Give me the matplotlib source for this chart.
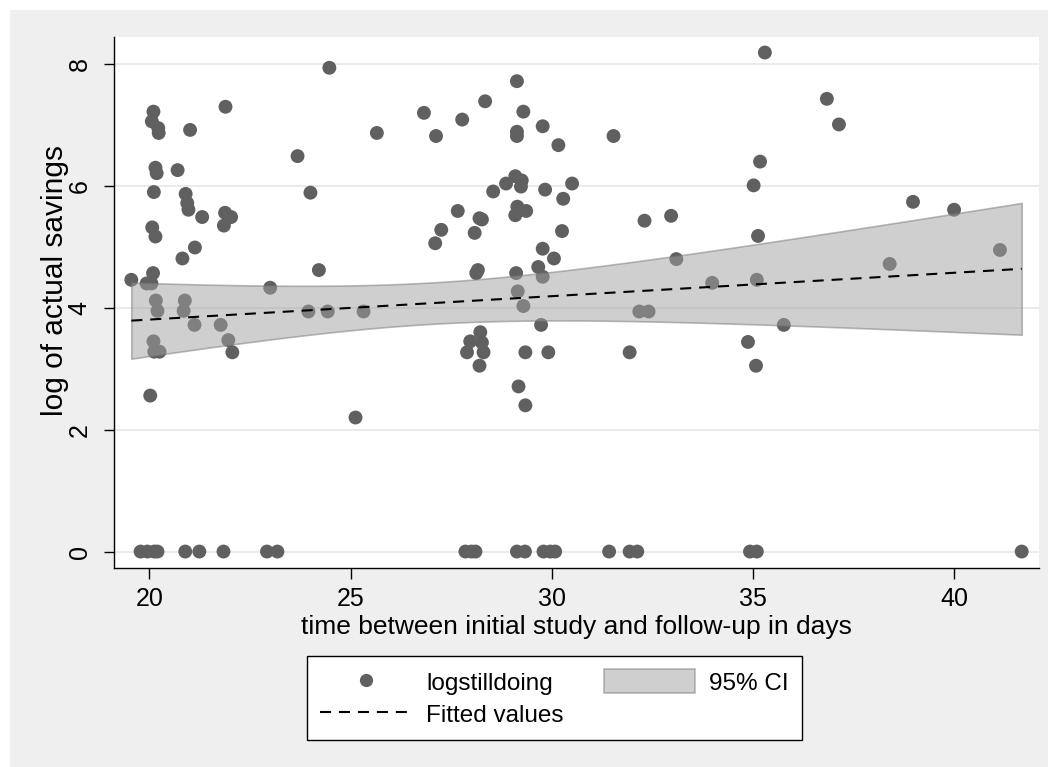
import numpy as np
import matplotlib
matplotlib.use("Agg")
import matplotlib.pyplot as plt
from matplotlib.patches import Rectangle, Patch
from matplotlib.lines import Line2D

plt.rcParams['font.family'] = ['Liberation Sans', 'DejaVu Sans']

# ---- data ----
days = [
    24.47, 20.10, 20.06, 20.22, 20.23, 21.01, 21.89, 25.65, 23.68, 20.15,
    20.18, 20.70, 20.11, 20.90, 20.94, 20.97, 21.31, 21.88, 22.03, 21.85,
    24.00, 20.07, 20.15, 21.13, 20.82, 24.21, 20.09, 19.55, 19.93, 20.05,
    23.00, 20.16, 20.88, 20.20, 20.85, 23.95, 24.43, 25.32, 21.12, 21.77,
    20.10, 20.12, 20.25, 21.96, 22.06, 20.02, 25.12,
    19.78, 19.95, 20.12, 20.20, 20.89, 21.24, 21.84, 22.92, 23.18,
    29.13, 28.34, 26.82, 27.77, 29.29, 27.12, 29.13, 29.13, 29.77, 30.16,
    31.53, 29.09, 29.25, 29.23, 28.86, 28.54, 29.83, 30.50, 30.28, 27.66,
    28.20, 28.26, 29.14, 29.36, 29.09, 27.25, 27.10, 28.08, 30.25, 32.30,
    32.96, 29.77, 30.05, 28.16, 28.12, 29.11, 29.66, 29.77, 33.09, 29.15,
    29.29, 32.17, 32.40, 29.73, 28.22, 27.97, 28.26, 27.89, 28.30, 28.20,
    29.34, 29.91, 31.93, 29.17, 29.34,
    27.85, 28.00, 28.10, 29.13, 29.33, 29.79, 29.96, 30.08, 31.42, 31.93, 32.12,
    35.29, 36.83, 37.13, 35.17, 35.01, 35.12, 38.97, 39.99, 33.98, 35.09,
    38.39, 41.13, 35.76, 34.87, 35.07,
    34.92, 35.09, 41.67,
]
logsav = [
    7.94, 7.22, 7.06, 6.95, 6.87, 6.92, 7.30, 6.87, 6.49, 6.30,
    6.21, 6.26, 5.90, 5.87, 5.72, 5.61, 5.49, 5.56, 5.49, 5.35,
    5.89, 5.32, 5.17, 4.99, 4.81, 4.62, 4.57, 4.46, 4.40, 4.40,
    4.33, 4.12, 4.12, 3.95, 3.95, 3.94, 3.94, 3.94, 3.72, 3.72,
    3.45, 3.28, 3.28, 3.47, 3.27, 2.56, 2.20,
    0, 0, 0, 0, 0, 0, 0, 0, 0,
    7.72, 7.39, 7.20, 7.09, 7.22, 6.82, 6.89, 6.82, 6.98, 6.67,
    6.82, 6.16, 6.09, 5.99, 6.04, 5.91, 5.94, 6.04, 5.79, 5.59,
    5.47, 5.45, 5.66, 5.59, 5.52, 5.28, 5.06, 5.23, 5.26, 5.43,
    5.51, 4.97, 4.81, 4.62, 4.57, 4.57, 4.67, 4.51, 4.80, 4.27,
    4.03, 3.94, 3.94, 3.72, 3.60, 3.45, 3.43, 3.27, 3.27, 3.05,
    3.27, 3.27, 3.27, 2.71, 2.40,
    0, 0, 0, 0, 0, 0, 0, 0, 0, 0, 0,
    8.19, 7.43, 7.01, 6.40, 6.01, 5.18, 5.74, 5.61, 4.41, 4.46,
    4.72, 4.95, 3.72, 3.44, 3.05,
    0, 0, 0,
]
# fitted line (values at the ends of the data range) and its 95% CI shape
fit_end_values = [3.79, 4.64]
ci_center_x = 27.03      # x where the band is narrowest
ci_min_halfwidth = 0.34  # half-width of the band at its narrowest
ci_growth = 0.0701       # growth of the half-width away from the center

xticks = [20, 25, 30, 35, 40]
yticks = [0, 2, 4, 6, 8]
xlabel = "time between initial study and follow-up in days"
ylabel = "log of actual savings"
legend_labels = ["logstilldoing", "Fitted values", "95% CI"]

x = np.array(days)
y = np.array(logsav)

# ---- fitted line and CI band ----
x0, x1 = x.min(), x.max()
xg = np.linspace(x0, x1, 200)
yg = fit_end_values[0] + (fit_end_values[1] - fit_end_values[0]) * (xg - x0) / (x1 - x0)
hw = np.sqrt(ci_min_halfwidth ** 2 + (ci_growth * (xg - ci_center_x)) ** 2)
lo, hi = yg - hw, yg + hw

# ---- figure ----
W, H = 1048, 767
fig = plt.figure(figsize=(W / 100, H / 100), dpi=100, facecolor='white')
fig.add_artist(Rectangle((10 / W, 0), 1 - 10 / W, 1 - 10 / H,
                         transform=fig.transFigure, facecolor='#efefef',
                         edgecolor='none', zorder=-10))

ax = fig.add_axes([114 / W, 1 - 568 / H, (1039 - 114) / W, (568 - 36.7) / H])
ax.set_facecolor('white')
ax.set_xlim(19.12, 42.1)
ax.set_ylim(-0.27, 8.45)

for yt in yticks:
    ax.axhline(yt, color='#e8e8e8', lw=1.3, zorder=0)

mcol = '#606060'
ax.scatter(x, y, s=100, color=mcol, edgecolors='none', zorder=2)
ax.fill_between(xg, lo, hi, facecolor='#a0a0a0', edgecolor='#777777',
                alpha=0.5, lw=1.2, zorder=3)
dash = (5.3, 3.8)
ax.plot(xg, yg, color='black', lw=1.5, dashes=dash, zorder=4)

for side in ['top', 'right']:
    ax.spines[side].set_visible(False)
for side in ['left', 'bottom']:
    ax.spines[side].set_linewidth(1.0)
    ax.spines[side].set_color('black')

fs = 17.5
ax.set_xticks(xticks)
ax.set_yticks(yticks)
ax.tick_params(axis='x', direction='out', length=8, width=1.0, labelsize=18, pad=6)
ax.tick_params(axis='y', direction='out', length=7.5, width=1.0, labelsize=18, pad=8.5)
for lab in ax.get_yticklabels():
    lab.set_rotation(90)
    lab.set_va('center')

fig.text(576 / W, 1 - 634 / H, xlabel, ha='center', va='baseline', fontsize=19)
fig.text(55 / W, 1 - 281 / H, ylabel, ha='center', va='center', rotation=90, fontsize=21.5)

handles = [
    Line2D([], [], marker='o', ls='none', color=mcol, markersize=9.5, markeredgewidth=0),
    Line2D([], [], color='black', lw=1.5, dashes=dash),
    Patch(facecolor='#a0a0a0', edgecolor='#777777', alpha=0.5, lw=1.2),
]
leg = fig.legend(handles, legend_labels, ncol=2, loc='upper left',
                 bbox_to_anchor=(307 / W, 1 - 656 / H), bbox_transform=fig.transFigure,
                 fontsize=fs, frameon=True, fancybox=False, edgecolor='black',
                 framealpha=1, borderpad=0.55, handlelength=3.75, handleheight=1.15,
                 handletextpad=0.6, columnspacing=1.65, labelspacing=0.28,
                 borderaxespad=0)
leg.get_frame().set_linewidth(1.0)

fig.savefig('out.png', dpi=100, facecolor='white')
